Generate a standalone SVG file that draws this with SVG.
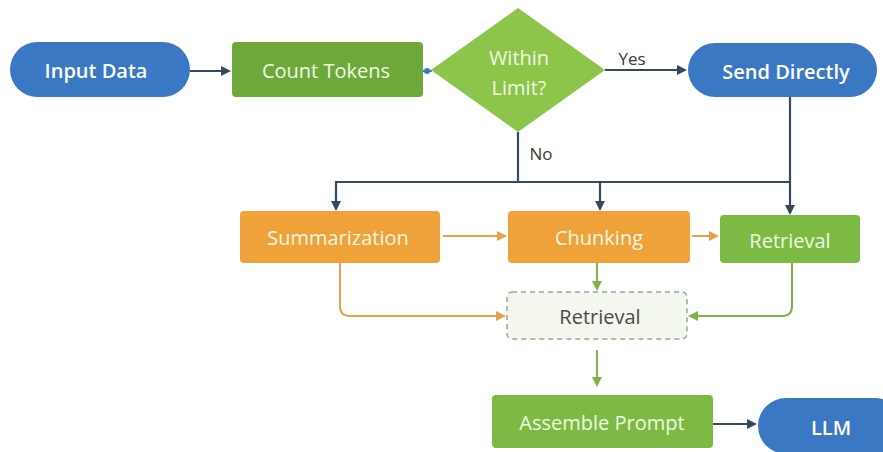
<svg xmlns="http://www.w3.org/2000/svg" width="883" height="452" viewBox="0 0 883 452">
<defs>
<style>
.t{font-family:"Open Sans","Noto Sans","Liberation Sans",sans-serif;font-size:20px;text-anchor:middle;dominant-baseline:central}
.w{fill:#eef8e2}
.wb{fill:#ffffff;font-weight:600}
.lbl{font-family:"Open Sans","Noto Sans","Liberation Sans",sans-serif;font-size:17px;fill:#3a3a3a}
.dk{stroke:#34495e;stroke-width:2.2;fill:none}
.or{stroke:#e9a04a;stroke-width:2;fill:none}
.gr{stroke:#7fb24a;stroke-width:2;fill:none}
</style>
<marker id="ad" markerWidth="10" markerHeight="10" refX="8" refY="5" orient="auto" markerUnits="userSpaceOnUse"><path d="M0,0 L10,5 L0,10 z" fill="#34495e"/></marker>
<marker id="ao" markerWidth="10" markerHeight="10" refX="8" refY="5" orient="auto" markerUnits="userSpaceOnUse"><path d="M0,0 L10,5 L0,10 z" fill="#e9a04a"/></marker>
<marker id="ag" markerWidth="10" markerHeight="10" refX="8" refY="5" orient="auto" markerUnits="userSpaceOnUse"><path d="M0,0 L10,5 L0,10 z" fill="#7fb24a"/></marker>
</defs>
<rect width="883" height="452" fill="#ffffff"/>
<g id="connectors">
<line class="dk" x1="190" y1="71" x2="229" y2="71" marker-end="url(#ad)"/>
<line x1="423" y1="71" x2="432" y2="71" stroke="#3b78c3" stroke-width="2"/>
<circle cx="427" cy="71" r="3" fill="#3b78c3"/>
<line class="dk" x1="605" y1="70" x2="685" y2="70" marker-end="url(#ad)"/>
<text class="lbl" x="632" y="65" text-anchor="middle">Yes</text>
<line class="dk" x1="518" y1="132" x2="518" y2="182"/>
<text class="lbl" x="541" y="160" text-anchor="middle">No</text>
<polyline class="dk" points="336,200 336,182 790,182"/>
<line class="dk" x1="600" y1="182" x2="600" y2="209" marker-end="url(#ad)"/>
<line class="dk" x1="336" y1="198" x2="336" y2="209" marker-end="url(#ad)"/>
<line class="dk" x1="790" y1="97" x2="790" y2="213" marker-end="url(#ad)"/>
<line class="or" x1="443" y1="236" x2="505" y2="236" marker-end="url(#ao)"/>
<line class="or" x1="692" y1="236" x2="717" y2="236" marker-end="url(#ao)"/>
<line class="gr" x1="597" y1="263" x2="597" y2="289" marker-end="url(#ag)"/>
<path class="or" d="M340,263 V306 Q340,316 350,316 H504" marker-end="url(#ao)"/>
<path class="gr" d="M792,263 V306 Q792,316 782,316 H690" marker-end="url(#ag)"/>
<line class="gr" x1="597" y1="350" x2="597" y2="385" marker-end="url(#ag)"/>
<line class="dk" x1="713" y1="424" x2="755" y2="424" marker-end="url(#ad)"/>
</g>
<g id="input-data">
<rect x="10" y="42" width="180" height="55" rx="27.5" fill="#3b78c3"/>
<text class="t wb" x="96" y="70">Input Data</text>
</g>
<g id="count-tokens">
<rect x="232" y="42" width="191" height="55" rx="4" fill="#6ea83a"/>
<text class="t w" x="326" y="70">Count Tokens</text>
</g>
<g id="within-limit">
<polygon points="518,8 605,70 518,132 431,70" fill="#8cc54a"/>
<text class="t w" x="519" y="57">Within</text>
<text class="t w" x="519" y="87">Limit?</text>
</g>
<g id="send-directly">
<rect x="688" y="43" width="189" height="54" rx="27" fill="#3b78c3"/>
<text class="t wb" x="786" y="71">Send Directly</text>
</g>
<g id="summarization">
<rect x="240" y="211" width="200" height="52" rx="4" fill="#f0a23a"/>
<text class="t w" x="338" y="237">Summarization</text>
</g>
<g id="chunking">
<rect x="508" y="211" width="182" height="52" rx="4" fill="#f0a23a"/>
<text class="t w" x="599" y="237">Chunking</text>
</g>
<g id="retrieval-right">
<rect x="720" y="215" width="140" height="48" rx="4" fill="#7dba43"/>
<text class="t w" x="790" y="240">Retrieval</text>
</g>
<g id="retrieval-center">
<rect x="507" y="292" width="180" height="47" rx="5" fill="#f3f7ee" stroke="#98a890" stroke-width="1.5" stroke-dasharray="5,4"/>
<text class="t" x="600" y="316" fill="#4a4a4a">Retrieval</text>
</g>
<g id="assemble-prompt">
<rect x="492" y="395" width="221" height="53" rx="4" fill="#7dba43"/>
<text class="t w" x="602" y="422">Assemble Prompt</text>
</g>
<g id="llm">
<rect x="758" y="398" width="145" height="56" rx="28" fill="#3b78c3"/>
<text class="t wb" x="831" y="427">LLM</text>
</g>
</svg>
